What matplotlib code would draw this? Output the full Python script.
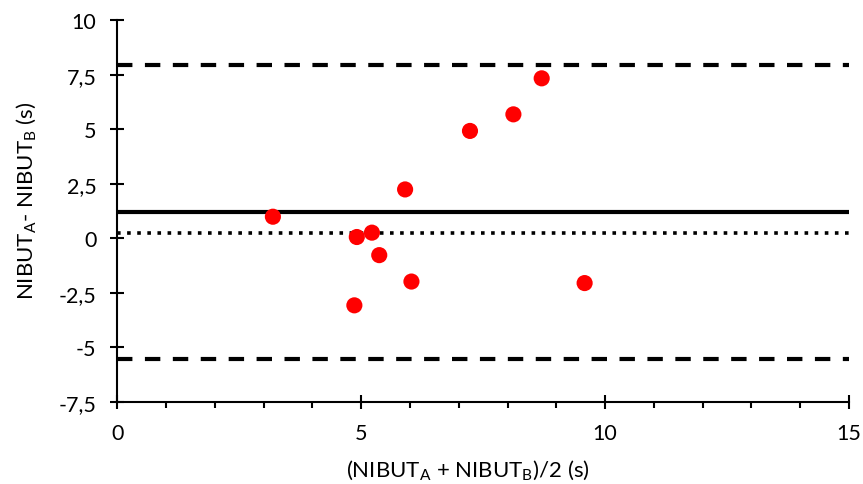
import matplotlib
matplotlib.use('Agg')
import matplotlib.pyplot as plt
from matplotlib.ticker import MultipleLocator

plt.rcParams['font.family'] = ['Lato', 'DejaVu Sans']
plt.rcParams['mathtext.fontset'] = 'custom'
plt.rcParams['mathtext.rm'] = 'Lato'
plt.rcParams['mathtext.it'] = 'Lato'

# mean of the two measurements vs difference
mean_vals = [3.19, 4.91, 5.22, 5.37, 4.86, 6.03, 5.90, 7.23, 8.12, 8.70, 9.58]
diff_vals = [0.99, 0.06, 0.26, -0.77, -3.07, -1.98, 2.24, 4.92, 5.68, 7.33, -2.05]

bias = 1.22
upper_loa = 7.96
lower_loa = -5.51
zero_ref = 0.25

y_ticks = [-7.5, -5, -2.5, 0, 2.5, 5, 7.5, 10]
y_tick_labels = ['-7,5', '-5', '-2,5', '0', '2,5', '5', '7,5', '10']
x_ticks = [0, 5, 10, 15]

f = plt.figure(figsize=(8.63, 4.85), dpi=100)
ax = f.add_axes([0.1359, 0.169, 0.8479, 0.7876])

x_span = [0, 15]
ax.plot(x_span, [upper_loa, upper_loa], color='black', lw=3, dashes=(3.7, 3))
ax.plot(x_span, [lower_loa, lower_loa], color='black', lw=3, dashes=(3.7, 3))
ax.plot(x_span, [bias, bias], color='black', lw=3, solid_capstyle='butt')
ax.plot(x_span, [zero_ref, zero_ref], color='black', lw=2.6, dashes=(1, 1.8))

ax.scatter(mean_vals, diff_vals, s=135, color='#ff0000', edgecolors='none', zorder=3)

ax.set_xlim(0, 15)
ax.set_ylim(-7.5, 10)
ax.set_xticks(x_ticks)
ax.xaxis.set_minor_locator(MultipleLocator(1))
ax.set_yticks(y_ticks)
ax.set_yticklabels(y_tick_labels)

for side in ['top', 'right']:
    ax.spines[side].set_visible(False)
for side in ['left', 'bottom']:
    ax.spines[side].set_linewidth(1.5)
    ax.spines[side].set_color('black')

ax.tick_params(axis='both', which='major', direction='inout', length=10, width=1.5,
               labelsize=15.5, colors='black')
ax.tick_params(axis='x', which='minor', direction='out', length=4, width=1.5)
ax.tick_params(axis='x', which='major', pad=10)
ax.tick_params(axis='y', which='major', pad=10)

ax.set_xlabel(r'(NIBUT$_\mathregular{A}$ + NIBUT$_\mathregular{B}$)/2 (s)', fontsize=16)
ax.set_ylabel(r'NIBUT$_\mathregular{A}$- NIBUT$_\mathregular{B}$ (s)', fontsize=16)
ax.xaxis.set_label_coords(0.479, -0.145)
ax.yaxis.set_label_coords(-0.108, 0.529)

f.savefig('out.png', dpi=100)
